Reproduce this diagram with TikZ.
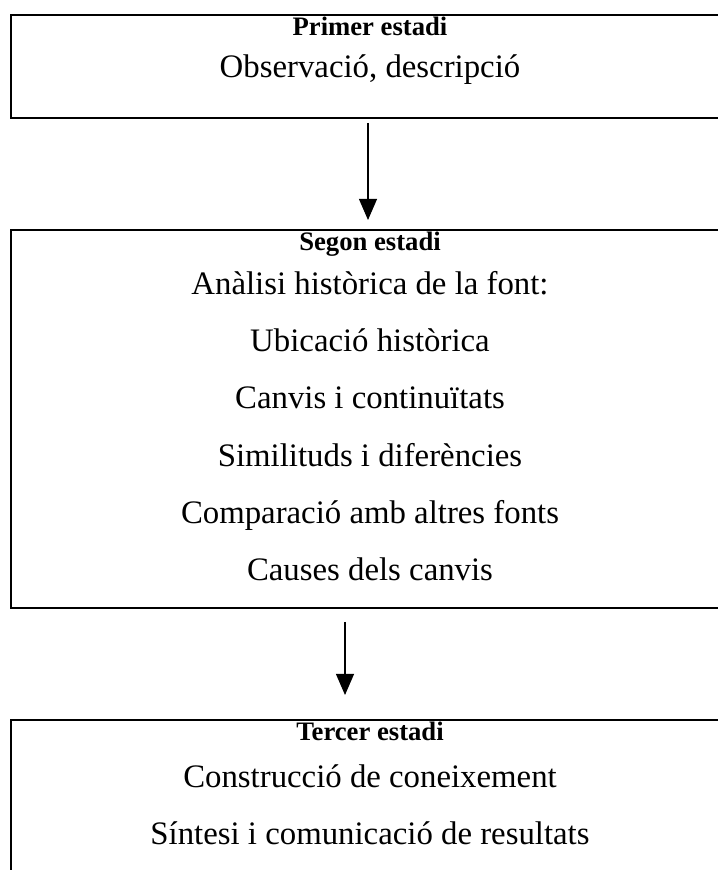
\documentclass[tikz,border=0pt]{standalone}
\usepackage{fontspec}
\setmainfont{Liberation Serif}
\usetikzlibrary{arrows.meta,positioning}

\tikzset{
  stage/.style = {draw, line width = 0.75pt, minimum width = 270pt, anchor = north west, inner sep = 0pt},
  head/.style = {anchor = base, font = \fontsize{10}{12}\selectfont\bfseries},
  item/.style = {anchor = base, font = \fontsize{12.3}{14}\selectfont},
  flow/.style = {-{Triangle[width = 6.75pt, length = 7.9pt]}, line width = 0.4pt}
}

\begin{document}
\begin{tikzpicture}[x = 0.375pt, y = 0.375pt]
\useasboundingbox (0,0) rectangle (718,870);
\clip (0,0) rectangle (718,870);
% boxes
\node[stage, minimum height = 38.625pt] (s1) at (10,856) {};
\node[stage, minimum height = 141.75pt] (s2) at (10,641) {};
\node[stage, minimum height = 93.75pt] (s3) at (10,151) {};
% first stage
\node[head] (h1) at (370,834) {Primer estadi};
\node[item] (p1) at (370,792) {Observació, descripció};
% second stage
\node[head] (h2) at (370,619) {Segon estadi};
\node[item] (q1) at (370,575) {Anàlisi històrica de la font:};
\node[item] (q2) at (370,518) {Ubicació històrica};
\node[item] (q3) at (370,461) {Canvis i continuïtats};
\node[item] (q4) at (370,403) {Similituds i diferències};
\node[item] (q5) at (370,346) {Comparació amb altres fonts};
\node[item] (q6) at (370,289) {Causes dels canvis};
% third stage
\node[head] (h3) at (370,129) {Tercer estadi};
\node[item] (r1) at (370,82) {Construcció de coneixement};
\node[item] (r2) at (370,25) {Síntesi i comunicació de resultats};
% arrows
\coordinate (a1) at (368,747);
\coordinate (b1) at (368,650);
\coordinate (a2) at (345,248);
\coordinate (b2) at (345,175);
\draw[flow] (a1) -- (b1);
\draw[flow] (a2) -- (b2);
\end{tikzpicture}
\end{document}
